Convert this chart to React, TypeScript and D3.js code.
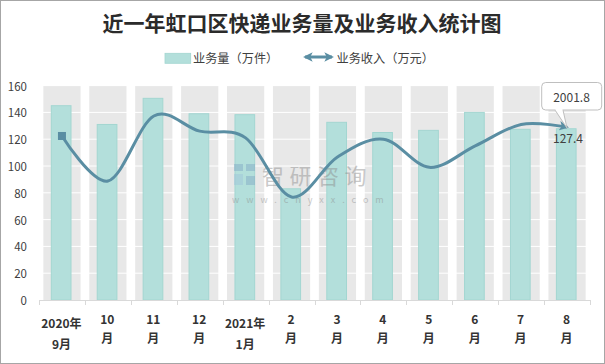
import React from "react";
import * as d3 from "d3";

const categories: string[][] = [
  ["2020年", "9月"], ["10", "月"], ["11", "月"], ["12", "月"], ["2021年", "1月"],
  ["2", "月"], ["3", "月"], ["4", "月"], ["5", "月"], ["6", "月"], ["7", "月"], ["8", "月"],
];
const volume: number[] = [145, 131, 150.5, 139, 138.3, 83, 132.6, 125, 126.6, 140, 127.4, 127.8];
const revenue: number[] = [122.4, 88.8, 137.3, 126, 121, 76.9, 106.7, 120, 99, 115, 131, 129];
const yTicks: number[] = [0, 20, 40, 60, 80, 100, 120, 140, 160];
const title = "近一年虹口区快递业务量及业务收入统计图";
const legendBar = "业务量（万件）";
const legendLine = "业务收入（万元）";
const calloutTop = "2001.8";
const calloutBottom = "127.4";

const W = 605, H = 364;
const FONT = "'Noto Sans CJK SC', 'Noto Sans', sans-serif";
const LINE = "#5a8ea3";
const BAR = "#b3dfdb";
const BAR_STROKE = "#a3d6d1";
const BAND = "#e8e8e8";

export default function App() {
  const idx = categories.map((_, i) => String(i));
  const x = d3.scaleBand<string>().domain(idx).range([39, 590]);
  const y = d3.scaleLinear().domain([0, 160]).range([300, 85.6]);
  const bw = x.bandwidth();
  const cx = (i: number) => (x(String(i)) as number) + bw / 2;

  const line = d3
    .line<number>()
    .x((_, i) => cx(i))
    .y((d) => y(d))
    .curve(d3.curveCatmullRom.alpha(0));
  const linePath = line(revenue) || "";

  const lastX = cx(revenue.length - 1);
  const lastY = y(revenue[revenue.length - 1]);

  return (
    <svg
      width={W}
      height={H}
      style={{ position: "absolute", left: 0, top: 0, background: "#fff" }}
      fontFamily={FONT}
    >
      <defs>
        <marker id="arrowEnd" viewBox="0 0 10 10" refX="8" refY="5" markerWidth="3.2" markerHeight="3.2" orient="auto">
          <path d="M0,0 L10,5 L0,10 L2.5,5 Z" fill={LINE} />
        </marker>
        <marker id="arrowStart" viewBox="0 0 10 10" refX="2" refY="5" markerWidth="3.2" markerHeight="3.2" orient="auto">
          <path d="M10,0 L0,5 L10,10 L7.5,5 Z" fill={LINE} />
        </marker>
      </defs>
      <rect x={0.5} y={0.5} width={W - 1} height={H - 1} fill="#fff" stroke="#a6a6a6" />

      {/* title */}
      <text x={302} y={22} textAnchor="middle" dominantBaseline="central" fontSize={21} fontWeight={700} fill="#2b2b2b">
        {title}
      </text>

      {/* legend */}
      <rect x={165} y={53.3} width={25.7} height={10} fill={BAR} stroke={BAR_STROKE} strokeWidth={0.8} />
      <text x={193} y={58.3} dominantBaseline="central" fontSize={12.2} fill="#404040">{legendBar}</text>
      <line x1={305} y1={57} x2={332} y2={57} stroke={LINE} strokeWidth={3} markerStart="url(#arrowStart)" markerEnd="url(#arrowEnd)" />
      <text x={336.5} y={58.3} dominantBaseline="central" fontSize={12.2} fill="#404040">{legendLine}</text>

      {/* background bands */}
      {idx.map((k) => {
        const pad = bw * 0.095;
        return (
          <rect key={"b" + k} x={(x(k) as number) + pad} y={y(160)} width={bw - 2 * pad} height={y(0) - y(160)} fill={BAND} />
        );
      })}

      {/* gridlines */}
      {yTicks.filter((t) => t > 0).map((t) => (
        <line key={"g" + t} x1={39} x2={590} y1={y(t)} y2={y(t)} stroke="#fff" strokeWidth={1} />
      ))}

      {/* bars */}
      {volume.map((v, i) => {
        const w = 19.7;
        return (
          <rect key={"v" + i} x={cx(i) - w / 2 - 0.8} y={y(v)} width={w} height={y(0) - y(v)} fill={BAR} stroke={BAR_STROKE} strokeWidth={1} />
        );
      })}

      {/* axis */}
      <line x1={39} x2={590} y1={300.5} y2={300.5} stroke="#d9d9d9" />
      {d3.range(categories.length + 1).map((i) => {
        const xx = Math.round(39 + i * bw) + 0.5;
        return <line key={"t" + i} x1={xx} x2={xx} y1={300} y2={305} stroke="#d9d9d9" />;
      })}

      {/* y labels */}
      {yTicks.map((t) => (
        <text key={"y" + t} x={27} y={y(t)} textAnchor="end" dominantBaseline="central" fontSize={11.5} fill="#404040">
          {t}
        </text>
      ))}

      {/* x labels */}
      {categories.map((c, i) => {
        const wide = c[0].length > 2;
        return (
          <g key={"x" + i} fontSize={12} fontWeight={700} fill="#333">
            <text x={cx(i) - 0.5} y={wide ? 322.3 : 318.3} textAnchor="middle" dominantBaseline="central">{c[0]}</text>
            <text x={cx(i) - 0.5} y={wide ? 343.3 : 337.5} textAnchor="middle" dominantBaseline="central">{c[1]}</text>
          </g>
        );
      })}

      {/* watermark */}
      <g opacity={0.45}>
        <rect x={234} y={164} width={9} height={7} fill="#7fa6c4" />
        <rect x={246} y={164} width={9} height={7} fill="#7fa6c4" />
        <rect x={234} y={174} width={9} height={11} fill="#9ec3da" />
        <rect x={246} y={176} width={9} height={9} fill="#7fa6c4" />
        <text x={262} y={173.5} dominantBaseline="central" fontSize={22} fill="#8a8a8a" letterSpacing={5.5}>智研咨询</text>
        <text x={232} y={199} dominantBaseline="central" fontSize={9} fill="#8a8a8a" letterSpacing={7}>www.chyxx.com</text>
      </g>

      {/* line */}
      <path d={linePath} fill="none" stroke={LINE} strokeWidth={3} markerEnd="url(#arrowEnd)" />
      <rect x={cx(0) - 4} y={y(revenue[0]) - 4} width={8} height={8} fill={LINE} />

      {/* callout */}
      <rect x={541.7} y={82.5} width={60} height={27.5} rx={4} fill="#fff" stroke="#bfbfbf" />
      <path d={`M555,110 L${lastX},${lastY + 1} L563,110`} fill="#fff" stroke="#bfbfbf" />
      <line x1={555.5} x2={562.5} y1={109.5} y2={109.5} stroke="#fff" strokeWidth={1.5} />
      <text x={571.5} y={96} textAnchor="middle" dominantBaseline="central" fontSize={12} fill="#404040">{calloutTop}</text>
      <text x={568} y={137.7} textAnchor="middle" dominantBaseline="central" fontSize={12} fill="#404040">{calloutBottom}</text>
    </svg>
  );
}
